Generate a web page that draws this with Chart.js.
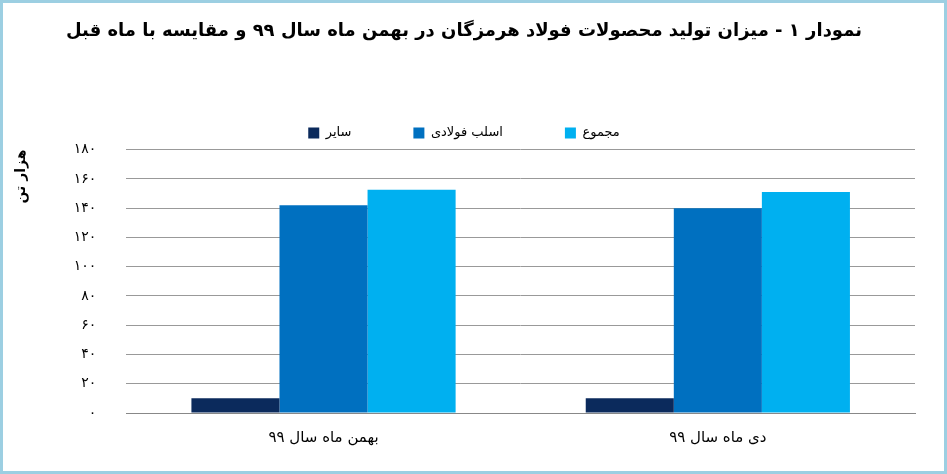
<!DOCTYPE html>
<html>
<head>
<meta charset="utf-8">
<script src="https://cdn.jsdelivr.net/npm/chart.js@4/dist/chart.umd.min.js"></script>
<style>
    html, body { margin: 0; padding: 0; background: #fff; }
    #wrap { width: 941px; height: 468px; border: 3px solid #9ccfe2; position: relative; }
</style>
</head>
<body>
<div id="wrap"><canvas id="chart" width="941" height="468"></canvas></div>
<script>
// data
const categories = ["بهمن ماه سال ۹۹", "دی ماه سال ۹۹"];
const seriesNames = ["سایر", "اسلب فولادی", "مجموع"];
const otherValues = [10, 10];
const slabValues = [142, 140];
const totalValues = [152.5, 151];
const seriesColors = ["#0b2a5c", "#0070c0", "#00b0f0"];

function toPersian(n) {
    return String(n).replace(/\d/g, d => "۰۱۲۳۴۵۶۷۸۹"[d]);
}

const ctx = document.getElementById("chart");
const fontFamily = "'DejaVu Sans', sans-serif";

new Chart(ctx, {
    type: "bar",
    data: {
        labels: categories,
        datasets: [otherValues, slabValues, totalValues].map((vals, i) => ({
            label: seriesNames[i],
            data: vals,
            backgroundColor: seriesColors[i],
            barPercentage: 1,
            categoryPercentage: 0.67
        }))
    },
    options: {
        responsive: false,
        animation: false,
        layout: { padding: { left: 10, right: 29, top: 12, bottom: 16 } },
        plugins: {
            title: {
                display: true,
                text: "نمودار ۱ - میزان تولید محصولات فولاد هرمزگان در بهمن ماه سال ۹۹ و مقایسه با ماه قبل",
                color: "#000",
                font: { family: fontFamily, size: 18, weight: "bold" },
                padding: { top: 6, bottom: 22 }
            },
            legend: {
                labels: {
                    color: "#000",
                    boxWidth: 11,
                    boxHeight: 11,
                    padding: 62,
                    font: { family: fontFamily, size: 13 }
                }
            },
            tooltip: { enabled: false }
        },
        scales: {
            x: {
                grid: { display: false },
                border: { color: "#888" },
                ticks: { color: "#000", padding: 8, font: { family: fontFamily, size: 15 } }
            },
            y: {
                min: 0,
                max: 180,
                ticks: {
                    stepSize: 20,
                    color: "#000",
                    padding: 30,
                    font: { family: fontFamily, size: 14 },
                    callback: v => toPersian(v)
                },
                grid: { color: "#999", drawTicks: false },
                border: { display: false },
                title: {
                    display: true,
                    align: "end",
                    text: "هزار تن",
                    color: "#000",
                    padding: { top: 0, bottom: 14 },
                    font: { family: fontFamily, size: 14, weight: "bold" }
                }
            }
        }
    }
});
</script>
</body>
</html>
